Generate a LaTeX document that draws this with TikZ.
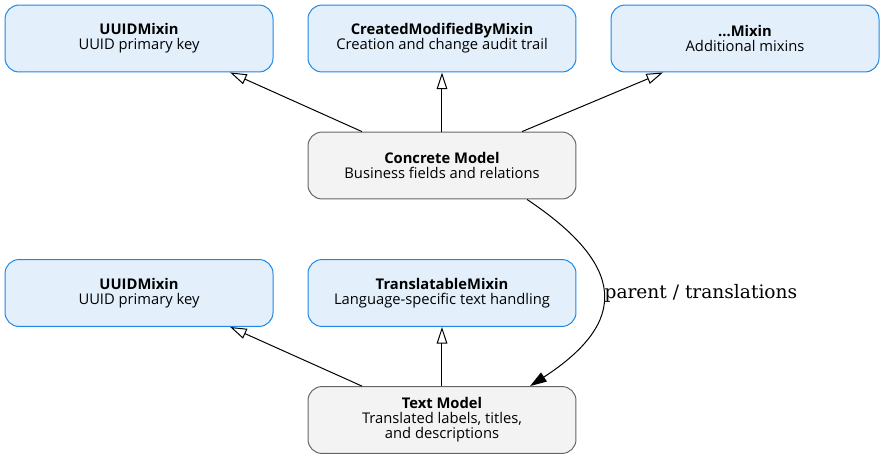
\documentclass[tikz,border=0pt]{standalone}
\usepackage{fontspec}
\setsansfont{Open Sans}
\newfontfamily\edgefont{DejaVu Serif}
\usepackage{xcolor}
\usepackage{tikz}
\usetikzlibrary{arrows.meta, positioning, calc}
\definecolor{mixinfill}{HTML}{E3F0FC}
\definecolor{mixindraw}{HTML}{1E88E5}
\definecolor{modelfill}{HTML}{F3F3F3}
\definecolor{modeldraw}{HTML}{666666}

\begin{document}
\begin{tikzpicture}[
  box/.style={rounded corners=0.37cm, minimum width=7.09cm, minimum height=1.77cm, align=center, line width=0.75pt, inner sep=2pt, font=\sffamily\fontsize{11.1}{11.3}\selectfont},
  mixin/.style={box, draw=mixindraw, fill=mixinfill},
  model/.style={box, draw=modeldraw, fill=modelfill},
  inherits/.style={-{Triangle[open, length=12.5pt, width=8pt]}, line width=0.75pt},
  relation/.style={-{Triangle[length=12.5pt, width=8pt]}, line width=0.75pt}
]
  \useasboundingbox (0,0) rectangle (23.415,-12.144);
  \node[mixin] (uuidA)   at (3.678,-1.019)  {\textbf{UUIDMixin}\\UUID primary key};
  \node[mixin] (created) at (11.694,-1.019) {\textbf{CreatedModifiedByMixin}\\Creation and change audit trail};
  \node[mixin] (more)    at (19.711,-1.019) {\textbf{...Mixin}\\Additional mixins};
  \node[model] (concrete) at (11.694,-4.379) {\textbf{Concrete Model}\\Business fields and relations};
  \node[mixin] (uuidB)   at (3.678,-7.752)  {\textbf{UUIDMixin}\\UUID primary key};
  \node[mixin] (transl)  at (11.694,-7.752) {\textbf{TranslatableMixin}\\Language-specific text handling};
  \node[model] (textmodel) at (11.694,-11.112) {\textbf{Text Model}\\Translated labels, titles,\\and descriptions};
  \draw[inherits] ([xshift=-2.12cm]concrete.north) -- ([xshift=2.41cm]uuidA.south);
  \draw[inherits] (concrete.north) -- (created.south);
  \draw[inherits] ([xshift=2.12cm]concrete.north) -- ([xshift=-2.17cm]more.south);
  \draw[inherits] ([xshift=-2.12cm]textmodel.north) -- ([xshift=2.41cm]uuidB.south);
  \draw[inherits] (textmodel.north) -- (transl.south);
  \draw[relation] ([xshift=2.25cm]concrete.south) .. controls (16.536,-7.011) and (16.669,-8.493) .. ([xshift=2.33cm]textmodel.north)
    node[pos=0.5, anchor=west, inner sep=1pt, font=\edgefont\fontsize{14}{16}\selectfont] {parent / translations};
\end{tikzpicture}
\end{document}
